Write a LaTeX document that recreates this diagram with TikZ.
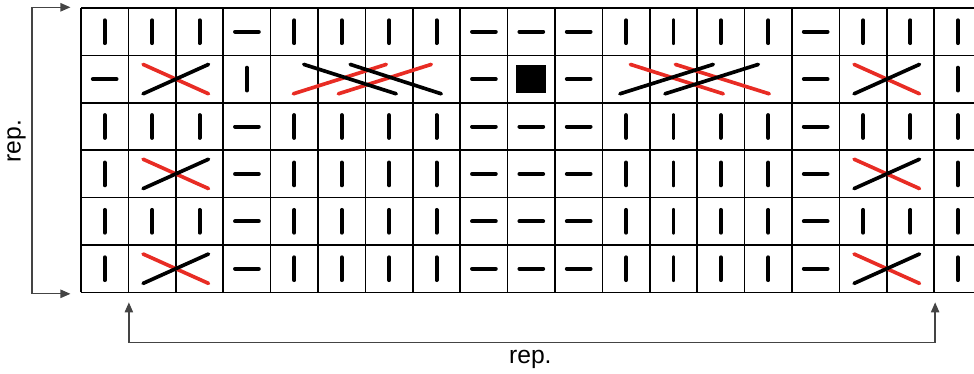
\documentclass[tikz,border=0pt]{standalone}
\usepackage{fontspec}
\setmainfont{Liberation Sans}
\usetikzlibrary{arrows.meta}
\definecolor{crossred}{RGB}{232,44,36}
\definecolor{repgray}{RGB}{68,68,68}

\begin{document}
\begin{tikzpicture}[scale = 1,
    bar/.style={line width=2.4pt, line cap=round},
    crossblack/.style={line width=2.2pt, line cap=round},
    crossred/.style={line width=2.2pt, line cap=round, color=crossred},
    reparrow/.style={line width=0.8pt, color=repgray, {Triangle[length=6pt,width=5pt]}-{Triangle[length=6pt,width=5pt]}},
    replabel/.style={font=\fontsize{14.8}{17}\selectfont, inner sep=0pt}]
    \clip(-1.709,0.169) rectangle (18.84,-7.721);
    \draw [line width=0.9pt] (0,0) grid (19,-6);
    % rows 1, 3, 5
    \foreach \r in {0,2,4} {
        \foreach \c in {0,1,2,4,5,6,7,11,12,13,14,16,17,18}
            \draw [bar] (\c+0.5,-\r-0.26) -- (\c+0.5,-\r-0.74);
        \foreach \c in {3,8,9,10,15}
            \draw [bar] (\c+0.25,-\r-0.5) -- (\c+0.75,-\r-0.5);
    }
    % rows 4, 6
    \foreach \r in {3,5} {
        \foreach \c in {0,4,5,6,7,11,12,13,14,18}
            \draw [bar] (\c+0.5,-\r-0.26) -- (\c+0.5,-\r-0.74);
        \foreach \c in {3,8,9,10,15}
            \draw [bar] (\c+0.25,-\r-0.5) -- (\c+0.75,-\r-0.5);
    }
    % row 2
    \foreach \c in {0,8,10,15}
        \draw [bar] (\c+0.25,-1.5) -- (\c+0.75,-1.5);
    \foreach \c in {3,18}
        \draw [bar] (\c+0.5,-1.26) -- (\c+0.5,-1.74);
    \fill [color=black] (9.18,-1.2) rectangle (9.82,-1.8);
    % crosses
    \foreach \r in {1,3,5}
        \foreach \m in {2,17} {
            \draw [crossred] (\m-0.69,-\r-0.19) -- (\m+0.69,-\r-0.81);
            \draw [crossblack] (\m-0.69,-\r-0.81) -- (\m+0.69,-\r-0.19);
        }
    % cables
    \draw [crossred] (4.48,-1.81) -- (6.44,-1.19);
    \draw [crossred] (5.43,-1.81) -- (7.39,-1.19);
    \draw [crossblack] (4.70,-1.19) -- (6.65,-1.81);
    \draw [crossblack] (5.68,-1.19) -- (7.60,-1.81);
    \draw [crossred] (11.59,-1.19) -- (13.55,-1.81);
    \draw [crossred] (12.54,-1.19) -- (14.52,-1.81);
    \draw [crossblack] (11.37,-1.81) -- (13.34,-1.19);
    \draw [crossblack] (12.32,-1.81) -- (14.29,-1.19);
    % repeats
    \coordinate (lefttip1) at (-0.222,0.015);
    \coordinate (lefttip2) at (-0.222,-6.03);
    \coordinate (leftc1) at (-1.034,0.015);
    \coordinate (leftc2) at (-1.034,-6.03);
    \draw [reparrow] (lefttip2) -- (leftc2) -- (leftc1) -- (lefttip1);
    \coordinate (bottip1) at (1.01,-6.21);
    \coordinate (bottip2) at (18.02,-6.21);
    \coordinate (botc1) at (1.01,-7.05);
    \coordinate (botc2) at (18.02,-7.05);
    \draw [reparrow] (bottip1) -- (botc1) -- (botc2) -- (bottip2);
    \node [replabel, anchor=base] (repbottom) at (9.48,-7.50) {rep.};
    \node [replabel, anchor=base, rotate=90] (repleft) at (-1.276,-2.81) {rep.};
\end{tikzpicture}
\end{document}
